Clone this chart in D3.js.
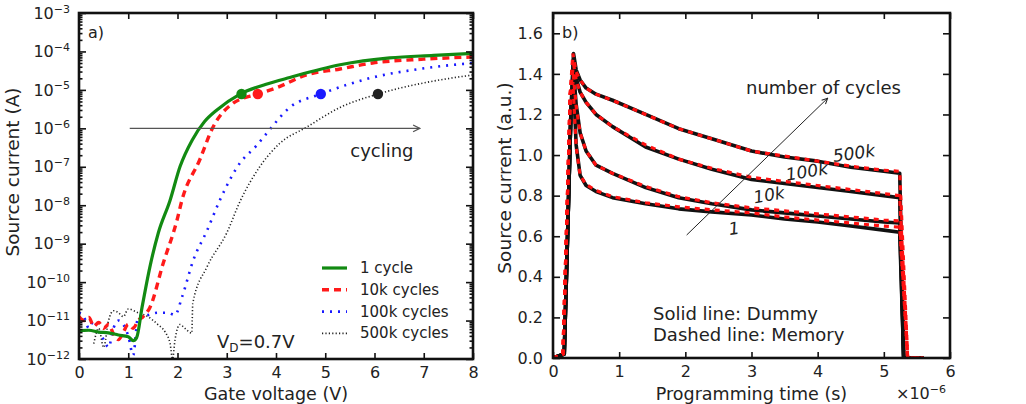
<!DOCTYPE html>
<html>
<head>
<meta charset="utf-8">
<script src="https://cdn.jsdelivr.net/npm/d3@7/dist/d3.min.js"></script>
<style>
    body { margin: 0; background: #fff; }
    text { font-family: "DejaVu Sans", sans-serif; fill: #222; }
</style>
</head>
<body>
<svg id="svgTag" width="1026" height="404"></svg>
<script>
// ---- panel a) transfer curves, gate voltage (V) vs source current (A)
var vg1 = [0, 0.2, 0.4, 0.6, 0.8, 1.0, 1.1, 1.17, 1.28, 1.44, 1.61, 1.85, 2.05, 2.3, 2.55, 2.8, 3.27, 3.8, 4.28, 5.3, 6.31, 7.2, 8];
var id1 = [5.5e-12, 5.6e-12, 5.0e-12, 4.8e-12, 4.2e-12, 3.8e-12, 3.0e-12, 3.6e-12, 2.2e-11, 2.5e-10, 1.9e-9, 1.35e-8, 1.0e-7, 5.0e-7, 1.5e-6, 3.0e-6, 7.8e-6, 1.4e-5, 2.1e-5, 4.5e-5, 6.8e-5, 7.9e-5, 8.9e-5];

var vg10k = [0, 0.1, 0.2, 0.3, 0.4, 0.5, 0.6, 0.7, 0.8, 0.9, 1.0, 1.1, 1.2, 1.3, 1.44, 1.71, 1.99, 2.09, 2.45, 2.72, 3.13, 3.63, 4.0, 4.62, 5.3, 5.96, 7.0, 8];
var id10k = [1.26e-11, 1.0e-11, 1.2e-11, 7.1e-12, 8.9e-12, 6.3e-12, 7.9e-12, 4.5e-12, 3.2e-12, 5.0e-12, 7.9e-12, 6.3e-12, 1.0e-11, 1.26e-11, 2.2e-11, 3.1e-10, 4.1e-9, 1.35e-8, 1.5e-7, 1.07e-6, 4.5e-6, 7.8e-6, 1.12e-5, 2.45e-5, 3.5e-5, 5.0e-5, 6.3e-5, 7.2e-5];

var vg100k = [0, 0.1, 0.2, 0.3, 0.4, 0.5, 0.6, 0.7, 0.8, 0.9, 1.0, 1.1, 1.2, 1.4, 1.6, 1.8, 1.95, 2.09, 2.32, 2.6, 2.86, 3.27, 3.6, 3.81, 4.28, 4.91, 5.96, 6.98, 8];
var id100k = [1.6e-11, 1.26e-11, 6.3e-12, 1.0e-11, 5.0e-12, 3.2e-12, 2.0e-12, 6.3e-12, 1.0e-11, 7.9e-12, 4.0e-12, 1.26e-12, 1.26e-11, 1.4e-11, 1.6e-11, 1.6e-11, 1.4e-11, 4.0e-11, 3.7e-10, 2.2e-9, 1.35e-8, 1.26e-7, 3.5e-7, 7.4e-7, 3.5e-6, 7.8e-6, 2.1e-5, 3.6e-5, 5.0e-5];

var vg500k = [0.3, 0.4, 0.5, 0.6, 0.7, 0.8, 0.9, 1.0, 1.2, 1.4, 1.6, 1.75, 1.85, 1.9, 1.95, 2.05, 2.15, 2.29, 2.31, 2.6, 3.0, 3.27, 3.67, 4.08, 4.62, 5.3, 6.07, 6.98, 8];
var id500k = [2.5e-12, 6.3e-12, 2.0e-12, 1.0e-11, 1.8e-11, 1.6e-11, 1.26e-11, 2.0e-11, 1.6e-11, 1.26e-11, 7.9e-12, 5.0e-12, 2.5e-12, 1.0e-12, 3.2e-12, 7.9e-12, 6.3e-12, 4.7e-12, 2.8e-11, 2.5e-10, 1.9e-9, 1.26e-8, 1.0e-7, 4.1e-7, 1.07e-6, 3.5e-6, 7.8e-6, 1.5e-5, 2.45e-5];

var legendLabels = ["1 cycle", "10k cycles", "100k cycles", "500k cycles"];
var markerVg = [3.3, 3.63, 4.91, 6.07];
var markerId = [7.8e-6, 7.8e-6, 7.8e-6, 7.8e-6];

var vgTicks = [0, 1, 2, 3, 4, 5, 6, 7, 8];
var idTickExp = [-3, -4, -5, -6, -7, -8, -9, -10, -11, -12];

// ---- panel b) transient source current (a.u.) vs programming time (x1e-6 s)
var tDummy = [0, 0.17, 0.22, 0.27, 0.31, 0.35, 0.41, 0.5, 0.65, 0.9, 1.4, 1.9, 2.4, 3.0, 3.5, 4.0, 4.5, 5.0, 5.24, 5.3, 5.6];
var dummy1 = [0, 0.02, 0.6, 1.2, 1.36, 1.05, 0.90, 0.85, 0.82, 0.79, 0.76, 0.735, 0.72, 0.705, 0.685, 0.67, 0.65, 0.63, 0.62, 0, 0];
var dummy10k = [0, 0.02, 0.6, 1.2, 1.42, 1.25, 1.11, 1.02, 0.95, 0.91, 0.84, 0.79, 0.76, 0.73, 0.715, 0.70, 0.685, 0.67, 0.665, 0, 0];
var dummy100k = [0, 0.02, 0.6, 1.2, 1.47, 1.38, 1.31, 1.26, 1.20, 1.14, 1.04, 0.98, 0.93, 0.88, 0.86, 0.84, 0.82, 0.80, 0.79, 0, 0];
var dummy500k = [0, 0.02, 0.6, 1.2, 1.50, 1.42, 1.37, 1.33, 1.30, 1.27, 1.20, 1.13, 1.08, 1.02, 0.99, 0.97, 0.94, 0.92, 0.91, 0, 0];

var tMemory = [0, 0.15, 0.21, 0.26, 0.3, 0.35, 0.41, 0.5, 0.65, 0.9, 1.4, 1.9, 2.4, 3.0, 3.5, 4.0, 4.5, 5.0, 5.24, 5.36, 5.6];
var memory1 = [0, 0.02, 0.7, 1.3, 1.36, 1.04, 0.90, 0.855, 0.825, 0.795, 0.765, 0.745, 0.73, 0.715, 0.695, 0.68, 0.665, 0.65, 0.645, 0, 0];
var memory10k = [0, 0.02, 0.7, 1.3, 1.42, 1.24, 1.11, 1.02, 0.95, 0.91, 0.845, 0.795, 0.765, 0.74, 0.725, 0.71, 0.695, 0.68, 0.675, 0, 0];
var memory100k = [0, 0.02, 0.7, 1.3, 1.47, 1.37, 1.31, 1.26, 1.20, 1.14, 1.05, 0.98, 0.935, 0.89, 0.87, 0.85, 0.83, 0.81, 0.80, 0, 0];
var memory500k = [0, 0.02, 0.7, 1.3, 1.50, 1.41, 1.37, 1.33, 1.30, 1.27, 1.20, 1.13, 1.08, 1.02, 0.995, 0.97, 0.945, 0.925, 0.92, 0, 0];

var cycleLabels = ["1", "10k", "100k", "500k"];
var timeTicks = [0, 1, 2, 3, 4, 5, 6];
var currentTicks = [0, 0.2, 0.4, 0.6, 0.8, 1.0, 1.2, 1.4, 1.6];

var svg = d3.select("#svgTag");

var defs = svg.append("defs");
function addArrowHead(id, color) {
    defs.append("marker")
        .attr("id", id)
        .attr("viewBox", "0 0 10 10")
        .attr("refX", 9).attr("refY", 5)
        .attr("markerWidth", 7).attr("markerHeight", 7)
        .attr("orient", "auto")
        .append("path")
        .attr("d", "M1,1 L9,5 L1,9")
        .attr("fill", "none")
        .attr("stroke", color)
        .attr("stroke-width", 1.5);
}
addArrowHead("arrowGrey", "#555");
addArrowHead("arrowBlack", "#222");

function zip(xs, ys) {
    return xs.map(function(x, i) { return [x, ys[i]]; });
}

// draws inward ticks on all four sides and the frame, returns the left axis
function drawFrame(g, x, y, xTicks, yTicks, yMinor, yFormat) {
    var x0 = x.range()[0], x1 = x.range()[1];
    var y0 = y.range()[0], y1 = y.range()[1];

    g.append("g").attr("transform", "translate(0," + y0 + ")")
        .call(d3.axisBottom(x).tickValues(xTicks).tickSize(-6).tickPadding(8).tickFormat(d3.format("d")));
    g.append("g").attr("transform", "translate(0," + y1 + ")")
        .call(d3.axisTop(x).tickValues(xTicks).tickSize(-6).tickFormat(""));
    var left = g.append("g").attr("transform", "translate(" + x0 + ",0)")
        .call(d3.axisLeft(y).tickValues(yTicks).tickSize(-7).tickPadding(10).tickFormat(yFormat));
    g.append("g").attr("transform", "translate(" + x1 + ",0)")
        .call(d3.axisRight(y).tickValues(yTicks).tickSize(-7).tickFormat(""));

    if (yMinor) {
        g.append("g").attr("transform", "translate(" + x0 + ",0)")
            .call(d3.axisLeft(y).tickValues(yMinor).tickSize(-3.5).tickFormat(""));
        g.append("g").attr("transform", "translate(" + x1 + ",0)")
            .call(d3.axisRight(y).tickValues(yMinor).tickSize(-3.5).tickFormat(""));
    }

    g.selectAll(".domain").remove();
    g.selectAll(".tick line").attr("stroke", "#111").attr("stroke-width", 1.6);
    g.selectAll(".tick text").style("font-size", "16px").attr("fill", "#222");

    g.append("rect")
        .attr("x", x0).attr("y", y1)
        .attr("width", x1 - x0).attr("height", y0 - y1)
        .attr("fill", "none").attr("stroke", "#111").attr("stroke-width", 2.6);

    return left;
}

// ================= panel a)
var xA = d3.scaleLinear().domain([0, 8]).range([79, 473]);
var yA = d3.scaleLog().domain([1e-12, 1e-3]).range([359, 13]);

var gA = svg.append("g");
defs.append("clipPath").attr("id", "clipA").append("rect")
    .attr("x", 79).attr("y", 13).attr("width", 394).attr("height", 346);

var seriesA = [
    { vg: vg1, id: id1, color: "#128a12", width: 3.2, dash: null },
    { vg: vg10k, id: id10k, color: "#ff1a1a", width: 3.4, dash: "7,5" },
    { vg: vg100k, id: id100k, color: "#1a1aff", width: 2.6, dash: "2,6" },
    { vg: vg500k, id: id500k, color: "#222", width: 1.6, dash: "1.2,2.2" }
];

var lineA = d3.line()
    .x(function(d) { return xA(d[0]); })
    .y(function(d) { return yA(d[1]); })
    .curve(d3.curveMonotoneX);

var plotA = gA.append("g").attr("clip-path", "url(#clipA)");
plotA.selectAll("path.curve")
    .data(seriesA.slice().reverse())
    .enter().append("path")
    .attr("class", "curve")
    .attr("d", function(s) { return lineA(zip(s.vg, s.id)); })
    .attr("fill", "none")
    .attr("stroke", function(s) { return s.color; })
    .attr("stroke-width", function(s) { return s.width; })
    .attr("stroke-dasharray", function(s) { return s.dash; });

plotA.selectAll("circle.mark")
    .data(seriesA)
    .enter().append("circle")
    .attr("class", "mark")
    .attr("cx", function(s, i) { return xA(markerVg[i]); })
    .attr("cy", function(s, i) { return yA(markerId[i]); })
    .attr("r", 5.2)
    .attr("fill", function(s) { return s.color; });

// cycling arrow
gA.append("line")
    .attr("x1", xA(1.03)).attr("y1", yA(1e-6))
    .attr("x2", xA(6.92)).attr("y2", yA(1e-6))
    .attr("stroke", "#555").attr("stroke-width", 1.2)
    .attr("marker-end", "url(#arrowGrey)");
gA.append("text").attr("x", xA(6.15)).attr("y", 157)
    .attr("text-anchor", "middle").style("font-size", "18px").text("cycling");

var minorA = [];
d3.range(-12, -3).forEach(function(e) {
    for (var m = 2; m <= 9; m++) minorA.push(m * Math.pow(10, e));
});
var leftA = drawFrame(gA, xA, yA, vgTicks, idTickExp.map(function(e) { return Math.pow(10, e); }), minorA, null);

leftA.selectAll(".tick text").each(function(d) {
    var t = d3.select(this).text(null);
    var e = Math.round(Math.log10(d));
    t.append("tspan").text("10");
    t.append("tspan").attr("dy", "-0.55em").style("font-size", "11px").text("\u2212" + (-e));
});
leftA.selectAll(".tick text").attr("x", -9);

gA.append("text").attr("x", 88).attr("y", 38).style("font-size", "16px").text("a)");

var vdText = gA.append("text").attr("x", 217).attr("y", 348).style("font-size", "18px");
vdText.append("tspan").text("V");
vdText.append("tspan").attr("dy", 4).style("font-size", "12px").text("D");
vdText.append("tspan").attr("dy", -4).text("=0.7V");

// legend
var legendRow = gA.append("g").selectAll("g")
    .data(seriesA)
    .enter().append("g")
    .attr("transform", function(s, i) { return "translate(322," + (268 + i * 21.8) + ")"; });
legendRow.append("line")
    .attr("x1", 0).attr("x2", 25)
    .attr("stroke", function(s) { return s.color; })
    .attr("stroke-width", function(s) { return s.width; })
    .attr("stroke-dasharray", function(s) { return s.dash; });
legendRow.append("text")
    .attr("x", 38).attr("y", 5)
    .style("font-size", "15px")
    .text(function(s, i) { return legendLabels[i]; });

gA.append("text")
    .attr("x", xA(4)).attr("y", 400)
    .attr("text-anchor", "middle").style("font-size", "17.5px")
    .text("Gate voltage (V)");
gA.append("text")
    .attr("transform", "translate(19,172) rotate(-90)")
    .attr("text-anchor", "middle").style("font-size", "18.5px")
    .text("Source current (A)");

// ================= panel b)
var xB = d3.scaleLinear().domain([0, 6]).range([553, 950]);
var yB = d3.scaleLinear().domain([0, 1.7]).range([358, 13]);

var gB = svg.append("g");
defs.append("clipPath").attr("id", "clipB").append("rect")
    .attr("x", 553).attr("y", 13).attr("width", 397).attr("height", 345);

var lineB = d3.line().x(function(d) { return xB(d[0]); }).y(function(d) { return yB(d[1]); });
var plotB = gB.append("g").attr("clip-path", "url(#clipB)");

var dummyCurves = [dummy1, dummy10k, dummy100k, dummy500k];
var memoryCurves = [memory1, memory10k, memory100k, memory500k];

plotB.selectAll("path.dummy")
    .data(dummyCurves)
    .enter().append("path")
    .attr("class", "dummy")
    .attr("d", function(v) { return lineB(zip(tDummy, v)); })
    .attr("fill", "none")
    .attr("stroke", "#111")
    .attr("stroke-width", 3.6)
    .attr("stroke-linejoin", "round");

plotB.selectAll("path.memory")
    .data(memoryCurves)
    .enter().append("path")
    .attr("class", "memory")
    .attr("d", function(v) { return lineB(zip(tMemory, v)); })
    .attr("fill", "none")
    .attr("stroke", "#ff1010")
    .attr("stroke-width", 3.2)
    .attr("stroke-dasharray", "5,5");

drawFrame(gB, xB, yB, timeTicks, currentTicks, null, d3.format(".1f"));

// number of cycles arrow
gB.append("line")
    .attr("x1", xB(2.02)).attr("y1", yB(0.606))
    .attr("x2", xB(4.15)).attr("y2", yB(1.28))
    .attr("stroke", "#222").attr("stroke-width", 1)
    .attr("marker-end", "url(#arrowBlack)");
gB.append("text").attr("x", 746).attr("y", 94)
    .style("font-size", "18px").text("number of cycles");

var labelPos = [[2.75, 0.61, -8], [3.28, 0.775, -10], [3.85, 0.89, -9], [4.56, 0.98, -8]];
gB.selectAll("text.cyc")
    .data(cycleLabels)
    .enter().append("text")
    .attr("class", "cyc")
    .attr("transform", function(d, i) {
        return "translate(" + xB(labelPos[i][0]) + "," + yB(labelPos[i][1]) + ") rotate(" + labelPos[i][2] + ")";
    })
    .attr("text-anchor", "middle")
    .style("font-size", "17px").style("font-style", "italic")
    .text(function(d) { return d; });

gB.append("text").attr("x", 562).attr("y", 38).style("font-size", "16px").text("b)");
gB.append("text").attr("x", 653).attr("y", 320).style("font-size", "18px").text("Solid line: Dummy");
gB.append("text").attr("x", 653).attr("y", 341).style("font-size", "18px").text("Dashed line: Memory");

gB.append("text")
    .attr("x", xB(3)).attr("y", 400)
    .attr("text-anchor", "middle").style("font-size", "17.5px")
    .text("Programming time (s)");
var sci = gB.append("text").attr("x", 896).attr("y", 399).style("font-size", "16px").attr("fill", "#444");
sci.append("tspan").text("\u00d710");
sci.append("tspan").attr("dy", "-0.55em").style("font-size", "11px").text("\u22126");
gB.append("text")
    .attr("transform", "translate(511,178) rotate(-90)")
    .attr("text-anchor", "middle").style("font-size", "18.5px")
    .text("Source current (a.u.)");
</script>
</body>
</html>
